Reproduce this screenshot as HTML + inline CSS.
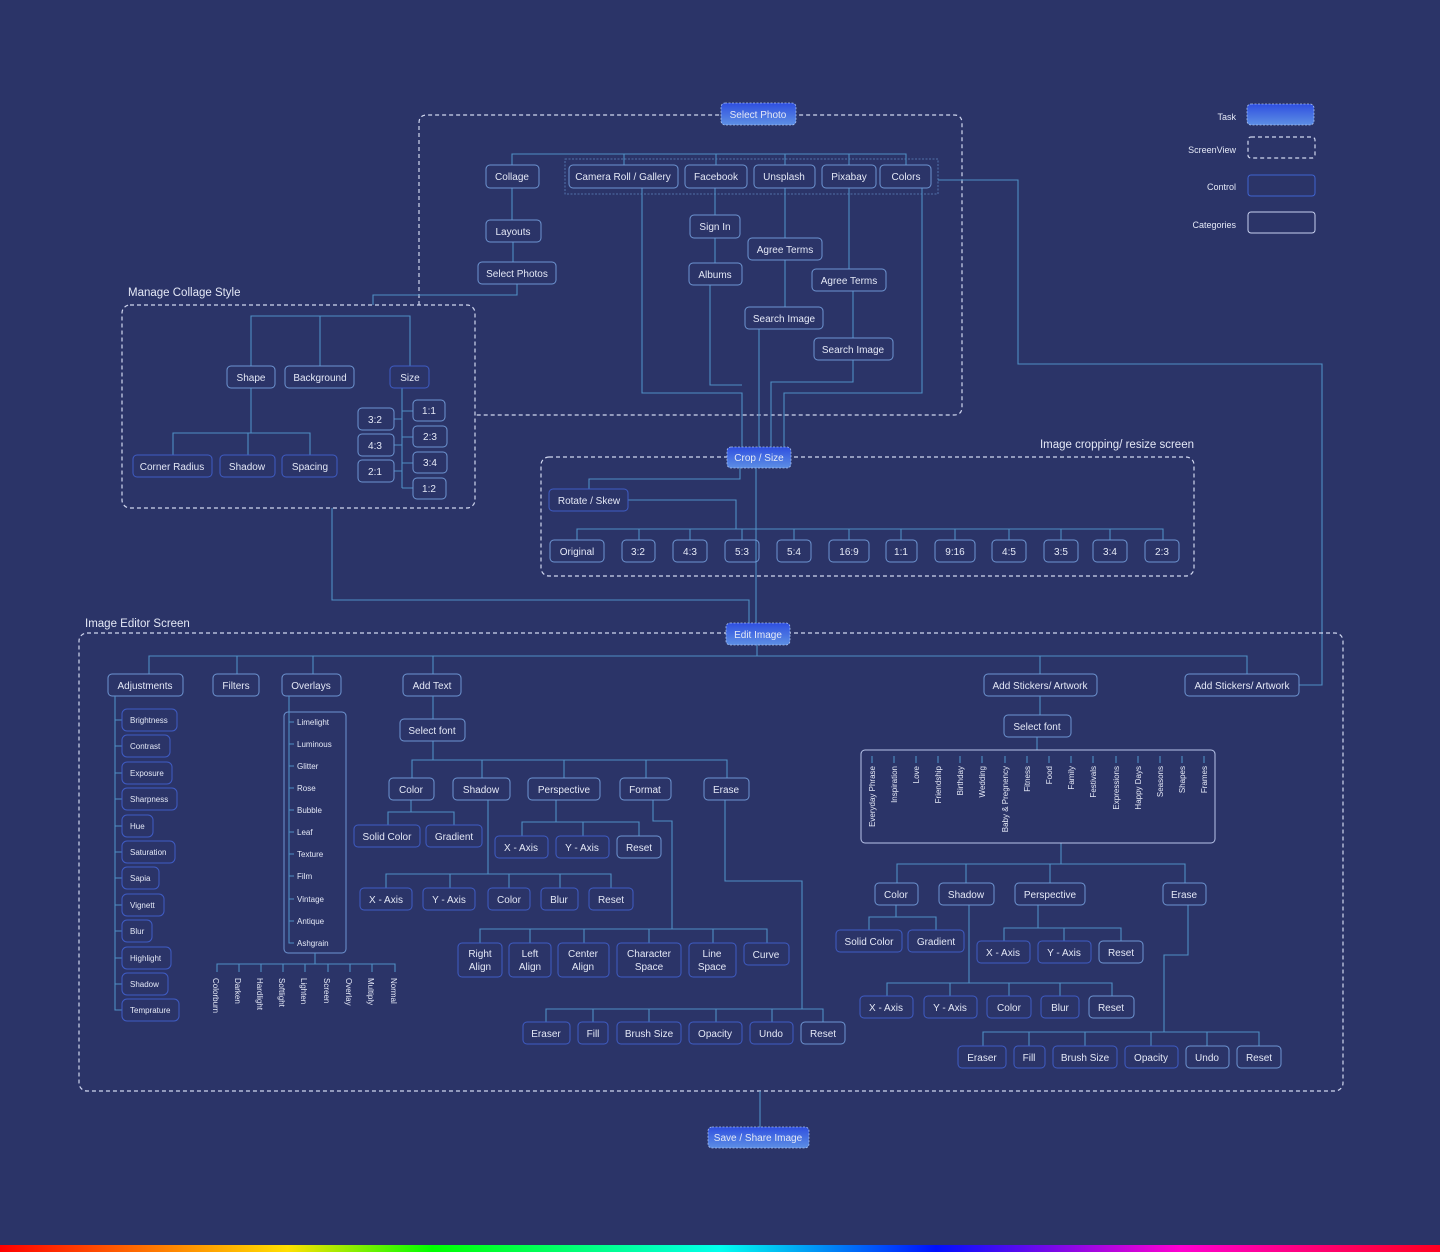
<!DOCTYPE html>
<html><head><meta charset="utf-8"><style>
html,body{margin:0;padding:0;background:#2b3468;}
svg{display:block}
text{font-family:"Liberation Sans",sans-serif;fill:#e4e8f6;}
.b{fill:none;stroke:#6e95d2;stroke-width:1}
.d{fill:none;stroke:#3f5cc4;stroke-width:1}
.l{fill:none;stroke:#4f8ec4;stroke-width:1.1}
.s{fill:none;stroke:#d0d6ee;stroke-width:1.2;stroke-dasharray:4 3}
.t{fill:url(#g);stroke:#a8c0f0;stroke-width:0.8;stroke-dasharray:2 1.5}
.c{font-size:10px;text-anchor:middle}
.sm{font-size:8px}
.h{font-size:11.5px}
</style></head><body>
<svg width="1440" height="1252" viewBox="0 0 1440 1252" xmlns="http://www.w3.org/2000/svg">
<defs>
<linearGradient id="g" x1="0" y1="0" x2="0" y2="1"><stop offset="0" stop-color="#2f4fe0"/><stop offset="1" stop-color="#5d8fe4"/></linearGradient>
<linearGradient id="rb" x1="0" y1="0" x2="1" y2="0">
<stop offset="0" stop-color="#ff0000"/><stop offset="0.2" stop-color="#ffe000"/><stop offset="0.3" stop-color="#00ff00"/><stop offset="0.5" stop-color="#00ffee"/><stop offset="0.65" stop-color="#0010ff"/><stop offset="0.82" stop-color="#ff00d0"/><stop offset="1" stop-color="#ff0020"/></linearGradient>
</defs>
<rect width="1440" height="1252" fill="#2b3468"/>
<rect x="0" y="1245" width="1440" height="7" fill="url(#rb)"/>

<!-- Legend -->
<text x="1236" y="120" class="sm" style="font-size:9px" text-anchor="end">Task</text>
<rect x="1247" y="104" width="67" height="21" rx="4" class="t"/>
<text x="1236" y="153" style="font-size:9px" text-anchor="end">ScreenView</text>
<rect x="1248" y="137" width="67" height="21" rx="3" class="s"/>
<text x="1236" y="190" style="font-size:9px" text-anchor="end">Control</text>
<rect x="1248" y="175" width="67" height="21" rx="3" fill="none" stroke="#3f63d0"/>
<text x="1236" y="228" style="font-size:9px" text-anchor="end">Categories</text>
<rect x="1248" y="212" width="67" height="21" rx="3" fill="none" stroke="#c7d0ef"/>

<!-- Select photo screen -->
<path class="s" d="M419 305V123Q419 115 427 115H954Q962 115 962 123V407Q962 415 954 415H475"/>
<rect x="565" y="159" width="373" height="35" fill="none" stroke="#5d82bf" stroke-width="0.8" stroke-dasharray="2 1.5"/>
<path class="l" d="M512 165V154H906V165M624 154V165M716 154V165M785 154V165M849 154V165"/>
<path class="l" d="M512 188V220M513 242V262M517 284V295H373V305"/>
<path class="l" d="M715 188V215M715 238V263M785 188V238M785 260V307M849 188V269M853 291V338"/>
<path class="l" d="M642 188V393H742V448M710 285V385H742M759 329V448M853 360V382H771V448M922 188V393H784V448"/>
<path class="l" d="M938 180H1018V364H1322V685H1299"/>
<rect x="721" y="103" width="75" height="22" rx="4" class="t"/><text x="758" y="118" class="c">Select Photo</text>
<rect x="486" y="165" width="53" height="23" rx="4" class="b"/><text x="512" y="180" class="c">Collage</text>
<rect x="569" y="165" width="109" height="23" rx="4" class="b"/><text x="623" y="180" class="c">Camera Roll / Gallery</text>
<rect x="685" y="165" width="62" height="23" rx="4" class="b"/><text x="716" y="180" class="c">Facebook</text>
<rect x="754" y="165" width="61" height="23" rx="4" class="b"/><text x="784" y="180" class="c">Unsplash</text>
<rect x="822" y="165" width="54" height="23" rx="4" class="b"/><text x="849" y="180" class="c">Pixabay</text>
<rect x="880" y="165" width="51" height="23" rx="4" class="b"/><text x="906" y="180" class="c">Colors</text>
<rect x="486" y="220" width="55" height="22" rx="4" class="b"/><text x="513" y="235" class="c">Layouts</text>
<rect x="478" y="262" width="78" height="22" rx="4" class="b"/><text x="517" y="277" class="c">Select Photos</text>
<rect x="690" y="215" width="50" height="23" rx="4" class="b"/><text x="715" y="230" class="c">Sign In</text>
<rect x="689" y="263" width="53" height="22" rx="4" class="b"/><text x="715" y="278" class="c">Albums</text>
<rect x="748" y="238" width="74" height="22" rx="4" class="b"/><text x="785" y="253" class="c">Agree Terms</text>
<rect x="812" y="269" width="74" height="22" rx="4" class="b"/><text x="849" y="284" class="c">Agree Terms</text>
<rect x="745" y="307" width="78" height="22" rx="4" class="b"/><text x="784" y="322" class="c">Search Image</text>
<rect x="814" y="338" width="79" height="22" rx="4" class="b"/><text x="853" y="353" class="c">Search Image</text>

<!-- Manage collage -->
<text x="128" y="296" class="h">Manage Collage Style</text>
<rect x="122" y="305" width="353" height="203" rx="8" class="s"/>
<path class="l" d="M251 366V316H410V366M320 316V366M251 388V433M173 455V433H310V455M248 433V455M402 388V488M394 419H402M394 445H402M394 471H402M402 411H413M402 437H413M402 463H413M402 488H413"/>
<path class="l" d="M332 508V600H749V623"/>
<rect x="227" y="366" width="48" height="22" rx="4" class="b"/><text x="251" y="381" class="c">Shape</text>
<rect x="285" y="366" width="69" height="22" rx="4" class="b"/><text x="320" y="381" class="c">Background</text>
<rect x="390" y="366" width="39" height="22" rx="4" class="d"/><text x="410" y="381" class="c">Size</text>
<rect x="133" y="455" width="79" height="22" rx="4" class="d"/><text x="172" y="470" class="c">Corner Radius</text>
<rect x="220" y="455" width="55" height="22" rx="4" class="d"/><text x="247" y="470" class="c">Shadow</text>
<rect x="282" y="455" width="55" height="22" rx="4" class="d"/><text x="310" y="470" class="c">Spacing</text>
<rect x="358" y="408" width="36" height="22" rx="4" class="b"/><text x="375" y="423" class="c">3:2</text>
<rect x="358" y="434" width="36" height="22" rx="4" class="b"/><text x="375" y="449" class="c">4:3</text>
<rect x="358" y="460" width="36" height="22" rx="4" class="b"/><text x="375" y="475" class="c">2:1</text>
<rect x="413" y="400" width="32" height="21" rx="4" class="b"/><text x="429" y="414" class="c">1:1</text>
<rect x="413" y="426" width="34" height="21" rx="4" class="b"/><text x="430" y="440" class="c">2:3</text>
<rect x="413" y="452" width="34" height="21" rx="4" class="b"/><text x="430" y="466" class="c">3:4</text>
<rect x="413" y="478" width="33" height="21" rx="4" class="b"/><text x="429" y="492" class="c">1:2</text>

<!-- Crop screen -->
<text x="1194" y="448" class="h" text-anchor="end">Image cropping/ resize screen</text>
<rect x="541" y="457" width="653" height="119" rx="8" class="s"/>
<path class="l" d="M740 468V479H589V489M628 500H736V529M756 468V623M577 540V529H1163V540M639 529V540M690 529V540M742 529V540M794 529V540M849 529V540M901 529V540M955 529V540M1009 529V540M1061 529V540M1110 529V540"/>
<rect x="727" y="447" width="64" height="21" rx="4" class="t"/><text x="759" y="461" class="c">Crop / Size</text>
<rect x="549" y="489" width="79" height="22" rx="4" class="d"/><text x="589" y="504" class="c">Rotate / Skew</text>
<rect x="550" y="540" width="54" height="22" rx="4" class="b"/><text x="577" y="555" class="c">Original</text>
<rect x="622" y="540" width="33" height="22" rx="4" class="b"/><text x="638" y="555" class="c">3:2</text>
<rect x="673" y="540" width="34" height="22" rx="4" class="b"/><text x="690" y="555" class="c">4:3</text>
<rect x="725" y="540" width="34" height="22" rx="4" class="b"/><text x="742" y="555" class="c">5:3</text>
<rect x="777" y="540" width="34" height="22" rx="4" class="b"/><text x="794" y="555" class="c">5:4</text>
<rect x="829" y="540" width="40" height="22" rx="4" class="b"/><text x="849" y="555" class="c">16:9</text>
<rect x="886" y="540" width="31" height="22" rx="4" class="b"/><text x="901" y="555" class="c">1:1</text>
<rect x="935" y="540" width="40" height="22" rx="4" class="b"/><text x="955" y="555" class="c">9:16</text>
<rect x="992" y="540" width="34" height="22" rx="4" class="b"/><text x="1009" y="555" class="c">4:5</text>
<rect x="1044" y="540" width="34" height="22" rx="4" class="b"/><text x="1061" y="555" class="c">3:5</text>
<rect x="1093" y="540" width="34" height="22" rx="4" class="b"/><text x="1110" y="555" class="c">3:4</text>
<rect x="1145" y="540" width="34" height="22" rx="4" class="b"/><text x="1162" y="555" class="c">2:3</text>

<!-- Editor screen -->
<text x="85" y="627" class="h">Image Editor Screen</text>
<rect x="79" y="633" width="1264" height="458" rx="8" class="s"/>
<path class="l" d="M757 645V656M149 674V656H1247V674M237 656V674M313 656V674M433 656V674M1040 656V674"/>
<rect x="726" y="623" width="64" height="22" rx="4" class="t"/><text x="758" y="638" class="c">Edit Image</text>
<rect x="108" y="674" width="75" height="22" rx="4" class="b"/><text x="145" y="689" class="c">Adjustments</text>
<rect x="213" y="674" width="46" height="22" rx="4" class="b"/><text x="236" y="689" class="c">Filters</text>
<rect x="282" y="674" width="59" height="22" rx="4" class="b"/><text x="311" y="689" class="c">Overlays</text>
<rect x="403" y="674" width="58" height="22" rx="4" class="b"/><text x="432" y="689" class="c">Add Text</text>
<rect x="984" y="674" width="113" height="22" rx="4" class="b"/><text x="1040" y="689" class="c">Add Stickers/ Artwork</text>
<rect x="1185" y="674" width="114" height="22" rx="4" class="b"/><text x="1242" y="689" class="c">Add Stickers/ Artwork</text>

<!-- Adjustments -->
<path class="l" d="M115 696V1010H122M115 720H122M115 746H122M115 773H122M115 799H122M115 826H122M115 852H122M115 878H122M115 905H122M115 931H122M115 958H122M115 984H122"/>
<g class="sm">
<rect x="122" y="709" width="55" height="22" rx="5" class="d"/><text x="130" y="723">Brightness</text>
<rect x="122" y="735" width="48" height="22" rx="5" class="d"/><text x="130" y="749">Contrast</text>
<rect x="122" y="762" width="50" height="22" rx="5" class="d"/><text x="130" y="776">Exposure</text>
<rect x="122" y="788" width="55" height="22" rx="5" class="d"/><text x="130" y="802">Sharpness</text>
<rect x="122" y="815" width="31" height="22" rx="5" class="d"/><text x="130" y="829">Hue</text>
<rect x="122" y="841" width="53" height="22" rx="5" class="d"/><text x="130" y="855">Saturation</text>
<rect x="122" y="867" width="37" height="22" rx="5" class="d"/><text x="130" y="881">Sapia</text>
<rect x="122" y="894" width="42" height="22" rx="5" class="d"/><text x="130" y="908">Vignett</text>
<rect x="122" y="920" width="30" height="22" rx="5" class="d"/><text x="130" y="934">Blur</text>
<rect x="122" y="947" width="49" height="22" rx="5" class="d"/><text x="130" y="961">Highlight</text>
<rect x="122" y="973" width="46" height="22" rx="5" class="d"/><text x="130" y="987">Shadow</text>
<rect x="122" y="999" width="57" height="22" rx="5" class="d"/><text x="130" y="1013">Temprature</text>
</g>

<!-- Overlays -->
<rect x="284" y="712" width="62" height="241" rx="4" class="b"/>
<path class="l" d="M289 696V943H294M289 722H294M289 744H294M289 766H294M289 788H294M289 810H294M289 832H294M289 854H294M289 876H294M289 899H294M289 921H294"/>
<g class="sm">
<text x="297" y="725">Limelight</text><text x="297" y="747">Luminous</text><text x="297" y="769">Glitter</text><text x="297" y="791">Rose</text><text x="297" y="813">Bubble</text><text x="297" y="835">Leaf</text><text x="297" y="857">Texture</text><text x="297" y="879">Film</text><text x="297" y="902">Vintage</text><text x="297" y="924">Antique</text><text x="297" y="946">Ashgrain</text>
</g>
<path class="l" d="M315 953V964M217 972V964H395V972M239 964V972M261 964V972M283 964V972M305 964V972M328 964V972M350 964V972M372 964V972"/>
<g class="sm">
<text transform="translate(213 978) rotate(90)">Colorburn</text>
<text transform="translate(235 978) rotate(90)">Darken</text>
<text transform="translate(257 978) rotate(90)">Hardlight</text>
<text transform="translate(279 978) rotate(90)">Softlight</text>
<text transform="translate(301 978) rotate(90)">Lighten</text>
<text transform="translate(324 978) rotate(90)">Screen</text>
<text transform="translate(346 978) rotate(90)">Overlay</text>
<text transform="translate(368 978) rotate(90)">Multiply</text>
<text transform="translate(391 978) rotate(90)">Normal</text>
</g>

<!-- Add Text -->
<path class="l" d="M433 696V719M433 741V760M412 778V760H727V778M482 760V778M564 760V778M646 760V778"/>
<path class="l" d="M411 800V812M388 825V812H454V825"/>
<path class="l" d="M488 800V874M386 888V874H611V888M450 874V888M509 874V888M560 874V888"/>
<path class="l" d="M556 800V822M522 836V822H639V836M583 822V836"/>
<path class="l" d="M653 800V821H672V929M480 943V929H767V943M530 929V943M584 929V943M649 929V943M713 929V943"/>
<path class="l" d="M725 800V881H802V1009M546 1022V1009H823V1022M593 1009V1022M649 1009V1022M716 1009V1022M772 1009V1022"/>
<rect x="400" y="719" width="65" height="22" rx="4" class="b"/><text x="432" y="734" class="c">Select font</text>
<rect x="389" y="778" width="45" height="22" rx="4" class="b"/><text x="411" y="793" class="c">Color</text>
<rect x="453" y="778" width="57" height="22" rx="4" class="b"/><text x="481" y="793" class="c">Shadow</text>
<rect x="528" y="778" width="72" height="22" rx="4" class="b"/><text x="564" y="793" class="c">Perspective</text>
<rect x="620" y="778" width="51" height="22" rx="4" class="b"/><text x="645" y="793" class="c">Format</text>
<rect x="704" y="778" width="45" height="22" rx="4" class="b"/><text x="726" y="793" class="c">Erase</text>
<rect x="354" y="825" width="66" height="22" rx="4" class="d"/><text x="387" y="840" class="c">Solid Color</text>
<rect x="426" y="825" width="56" height="22" rx="4" class="d"/><text x="454" y="840" class="c">Gradient</text>
<rect x="495" y="836" width="53" height="22" rx="4" class="d"/><text x="521" y="851" class="c">X - Axis</text>
<rect x="556" y="836" width="53" height="22" rx="4" class="d"/><text x="582" y="851" class="c">Y - Axis</text>
<rect x="617" y="836" width="44" height="22" rx="4" class="b"/><text x="639" y="851" class="c">Reset</text>
<rect x="360" y="888" width="52" height="22" rx="4" class="d"/><text x="386" y="903" class="c">X - Axis</text>
<rect x="423" y="888" width="52" height="22" rx="4" class="d"/><text x="449" y="903" class="c">Y - Axis</text>
<rect x="488" y="888" width="42" height="22" rx="4" class="d"/><text x="509" y="903" class="c">Color</text>
<rect x="541" y="888" width="37" height="22" rx="4" class="d"/><text x="559" y="903" class="c">Blur</text>
<rect x="589" y="888" width="44" height="22" rx="4" class="d"/><text x="611" y="903" class="c">Reset</text>
<rect x="458" y="943" width="44" height="34" rx="4" class="d"/><text x="480" y="957" class="c">Right</text><text x="480" y="970" class="c">Align</text>
<rect x="509" y="943" width="42" height="34" rx="4" class="d"/><text x="530" y="957" class="c">Left</text><text x="530" y="970" class="c">Align</text>
<rect x="558" y="943" width="51" height="34" rx="4" class="d"/><text x="583" y="957" class="c">Center</text><text x="583" y="970" class="c">Align</text>
<rect x="617" y="943" width="64" height="34" rx="4" class="d"/><text x="649" y="957" class="c">Character</text><text x="649" y="970" class="c">Space</text>
<rect x="689" y="943" width="47" height="34" rx="4" class="d"/><text x="712" y="957" class="c">Line</text><text x="712" y="970" class="c">Space</text>
<rect x="744" y="943" width="45" height="22" rx="4" class="d"/><text x="766" y="958" class="c">Curve</text>
<rect x="523" y="1022" width="47" height="22" rx="4" class="d"/><text x="546" y="1037" class="c">Eraser</text>
<rect x="578" y="1022" width="30" height="22" rx="4" class="d"/><text x="593" y="1037" class="c">Fill</text>
<rect x="617" y="1022" width="64" height="22" rx="4" class="d"/><text x="649" y="1037" class="c">Brush Size</text>
<rect x="689" y="1022" width="53" height="22" rx="4" class="d"/><text x="715" y="1037" class="c">Opacity</text>
<rect x="750" y="1022" width="43" height="22" rx="4" class="d"/><text x="771" y="1037" class="c">Undo</text>
<rect x="801" y="1022" width="44" height="22" rx="4" class="b"/><text x="823" y="1037" class="c">Reset</text>

<!-- Stickers -->
<path class="l" d="M1040 696V715M1037 737V750M1061 843V864M897 883V864H1185V883M966 864V883M1050 864V883"/>
<path class="l" d="M896 905V917M869 930V917H936V930"/>
<path class="l" d="M1038 905V928M1004 941V928H1121V941M1064 928V941"/>
<path class="l" d="M969 905V983M887 996V983H1112V996M950 983V996M1009 983V996M1060 983V996"/>
<path class="l" d="M1188 905V955H1164V1032M983 1046V1032H1259V1046M1029 1032V1046M1085 1032V1046M1151 1032V1046M1207 1032V1046"/>
<rect x="1004" y="715" width="67" height="22" rx="4" class="b"/><text x="1037" y="730" class="c">Select font</text>
<rect x="861" y="750" width="354" height="93" rx="4" fill="none" stroke="#b9c5ea"/>
<path class="l" d="M872 756V763M894 756V763M916 756V763M938 756V763M960 756V763M982 756V763M1005 756V763M1027 756V763M1049 756V763M1071 756V763M1093 756V763M1116 756V763M1138 756V763M1160 756V763M1182 756V763M1204 756V763"/>
<g class="sm" text-anchor="end">
<text transform="translate(875 766) rotate(-90)">Everyday Phrase</text>
<text transform="translate(897 766) rotate(-90)">Inspiration</text>
<text transform="translate(919 766) rotate(-90)">Love</text>
<text transform="translate(941 766) rotate(-90)">Friendship</text>
<text transform="translate(963 766) rotate(-90)">Birthday</text>
<text transform="translate(985 766) rotate(-90)">Wedding</text>
<text transform="translate(1008 766) rotate(-90)">Baby &amp; Pregnency</text>
<text transform="translate(1030 766) rotate(-90)">Fitness</text>
<text transform="translate(1052 766) rotate(-90)">Food</text>
<text transform="translate(1074 766) rotate(-90)">Family</text>
<text transform="translate(1096 766) rotate(-90)">Festivals</text>
<text transform="translate(1119 766) rotate(-90)">Expressions</text>
<text transform="translate(1141 766) rotate(-90)">Happy Days</text>
<text transform="translate(1163 766) rotate(-90)">Seasons</text>
<text transform="translate(1185 766) rotate(-90)">Shapes</text>
<text transform="translate(1207 766) rotate(-90)">Frames</text>
</g>
<rect x="875" y="883" width="43" height="22" rx="4" class="b"/><text x="896" y="898" class="c">Color</text>
<rect x="939" y="883" width="55" height="22" rx="4" class="b"/><text x="966" y="898" class="c">Shadow</text>
<rect x="1015" y="883" width="70" height="22" rx="4" class="b"/><text x="1050" y="898" class="c">Perspective</text>
<rect x="1163" y="883" width="43" height="22" rx="4" class="b"/><text x="1184" y="898" class="c">Erase</text>
<rect x="836" y="930" width="66" height="22" rx="4" class="d"/><text x="869" y="945" class="c">Solid Color</text>
<rect x="908" y="930" width="56" height="22" rx="4" class="d"/><text x="936" y="945" class="c">Gradient</text>
<rect x="977" y="941" width="53" height="22" rx="4" class="d"/><text x="1003" y="956" class="c">X - Axis</text>
<rect x="1038" y="941" width="53" height="22" rx="4" class="d"/><text x="1064" y="956" class="c">Y - Axis</text>
<rect x="1099" y="941" width="44" height="22" rx="4" class="b"/><text x="1121" y="956" class="c">Reset</text>
<rect x="860" y="996" width="53" height="22" rx="4" class="d"/><text x="886" y="1011" class="c">X - Axis</text>
<rect x="924" y="996" width="53" height="22" rx="4" class="d"/><text x="950" y="1011" class="c">Y - Axis</text>
<rect x="987" y="996" width="44" height="22" rx="4" class="d"/><text x="1009" y="1011" class="c">Color</text>
<rect x="1041" y="996" width="38" height="22" rx="4" class="d"/><text x="1060" y="1011" class="c">Blur</text>
<rect x="1089" y="996" width="45" height="22" rx="4" class="b"/><text x="1111" y="1011" class="c">Reset</text>
<rect x="958" y="1046" width="48" height="22" rx="4" class="d"/><text x="982" y="1061" class="c">Eraser</text>
<rect x="1014" y="1046" width="31" height="22" rx="4" class="d"/><text x="1029" y="1061" class="c">Fill</text>
<rect x="1053" y="1046" width="64" height="22" rx="4" class="d"/><text x="1085" y="1061" class="c">Brush Size</text>
<rect x="1125" y="1046" width="53" height="22" rx="4" class="d"/><text x="1151" y="1061" class="c">Opacity</text>
<rect x="1186" y="1046" width="43" height="22" rx="4" class="b"/><text x="1207" y="1061" class="c">Undo</text>
<rect x="1237" y="1046" width="44" height="22" rx="4" class="b"/><text x="1259" y="1061" class="c">Reset</text>

<!-- Save -->
<path class="l" d="M760 1091V1127"/>
<rect x="708" y="1127" width="101" height="21" rx="4" class="t"/><text x="758" y="1141" class="c">Save / Share Image</text>
</svg>
</body></html>
